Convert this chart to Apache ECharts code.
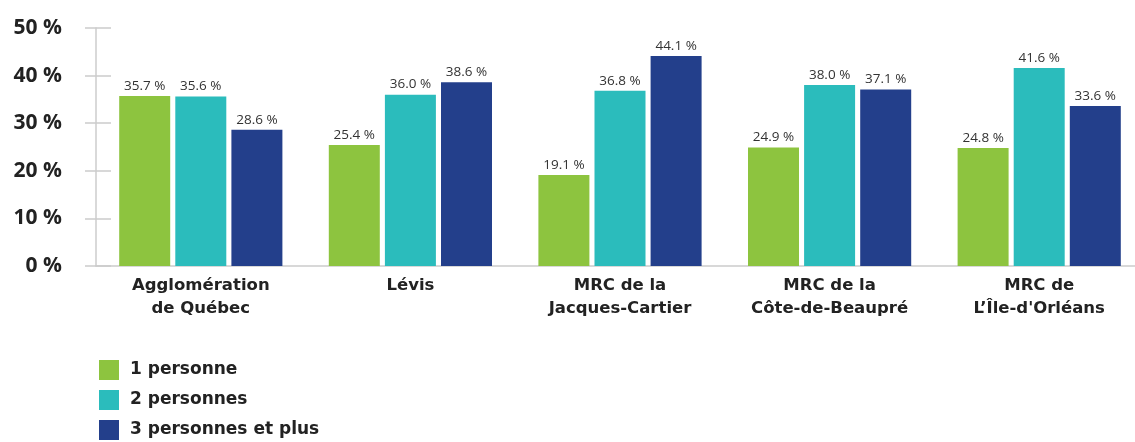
<!DOCTYPE html>
<html>
<head>
<meta charset="utf-8">
<script src="https://cdn.jsdelivr.net/npm/echarts@6/dist/echarts.min.js"></script>
<style>
html,body{margin:0;padding:0;background:#fff;overflow:hidden;}
#chart{width:1150px;height:442px;}
</style>
</head>
<body>
<div id="chart"></div>
<script>
const categories = ["Agglomération\nde Québec", "Lévis", "MRC de la\nJacques-Cartier", "MRC de la\nCôte-de-Beaupré", "MRC de\nL’Île-d'Orléans"];
const seriesNames = ["1 personne", "2 personnes", "3 personnes et plus"];
const onePerson = [35.7, 25.4, 19.1, 24.9, 24.8];
const twoPersons = [35.6, 36.0, 36.8, 38.0, 41.6];
const threePlus = [28.6, 38.6, 44.1, 37.1, 33.6];
const colors = ["#8dc43f", "#2bbcbc", "#233f8b"];

const FONT = "Open Sans";
const FONT2 = "DejaVu Sans";
const chart = echarts.init(document.getElementById('chart'));
const fmt = v => v.toFixed(1) + ' %';
function mk(name, data, color) {
  return {
    name: name, type: 'bar', data: data, barWidth: 51, barGap: '10%',
    itemStyle: { color: color },
    label: { show: true, position: 'top', distance: 3, color: '#333', fontSize: 13.5, fontFamily: FONT,
      formatter: p => fmt(p.value) }
  };
}
chart.setOption({
  animation: false,
  textStyle: { fontFamily: FONT },
  grid: { left: 96, right: 6, top: 28, bottom: 176, containLabel: false },
  legend: {
    orient: 'vertical', left: 99, top: 360, itemWidth: 20, itemHeight: 20, itemGap: 10, padding: 0,
    icon: 'rect', data: seriesNames,
    textStyle: { fontSize: 17, fontWeight: 'bold', color: '#222', fontFamily: FONT2, padding: [0,0,0,6] }
  },
  xAxis: {
    type: 'category', data: categories,
    axisLine: { lineStyle: { color: '#cccccc', width: 1.5 } },
    axisTick: { show: false },
    axisLabel: { color: '#222', fontSize: 16.5, fontWeight: 'bold', fontFamily: FONT2, lineHeight: 23, margin: 8, interval: 0 }
  },
  yAxis: [{
    type: 'value', min: 0, max: 50, interval: 10,
    axisLine: { show: true, lineStyle: { color: '#cccccc', width: 1.5 } },
    axisTick: { show: true, length: 11, lineStyle: { color: '#cccccc', width: 1.5 } },
    splitLine: { show: false },
    axisLabel: { color: '#222', fontSize: 21, fontWeight: 700, fontFamily: FONT, margin: 34,
      formatter: v => v + ' %' }
  }, {
    type: 'value', min: 0, max: 50, interval: 10, position: 'left',
    axisLine: { show: false },
    axisTick: { show: true, inside: true, length: 15, lineStyle: { color: '#cccccc', width: 1.5 } },
    splitLine: { show: false }, axisLabel: { show: false }
  }],
  series: [
    mk(seriesNames[0], onePerson, colors[0]),
    mk(seriesNames[1], twoPersons, colors[1]),
    mk(seriesNames[2], threePlus, colors[2])
  ]
});
</script>
</body>
</html>
